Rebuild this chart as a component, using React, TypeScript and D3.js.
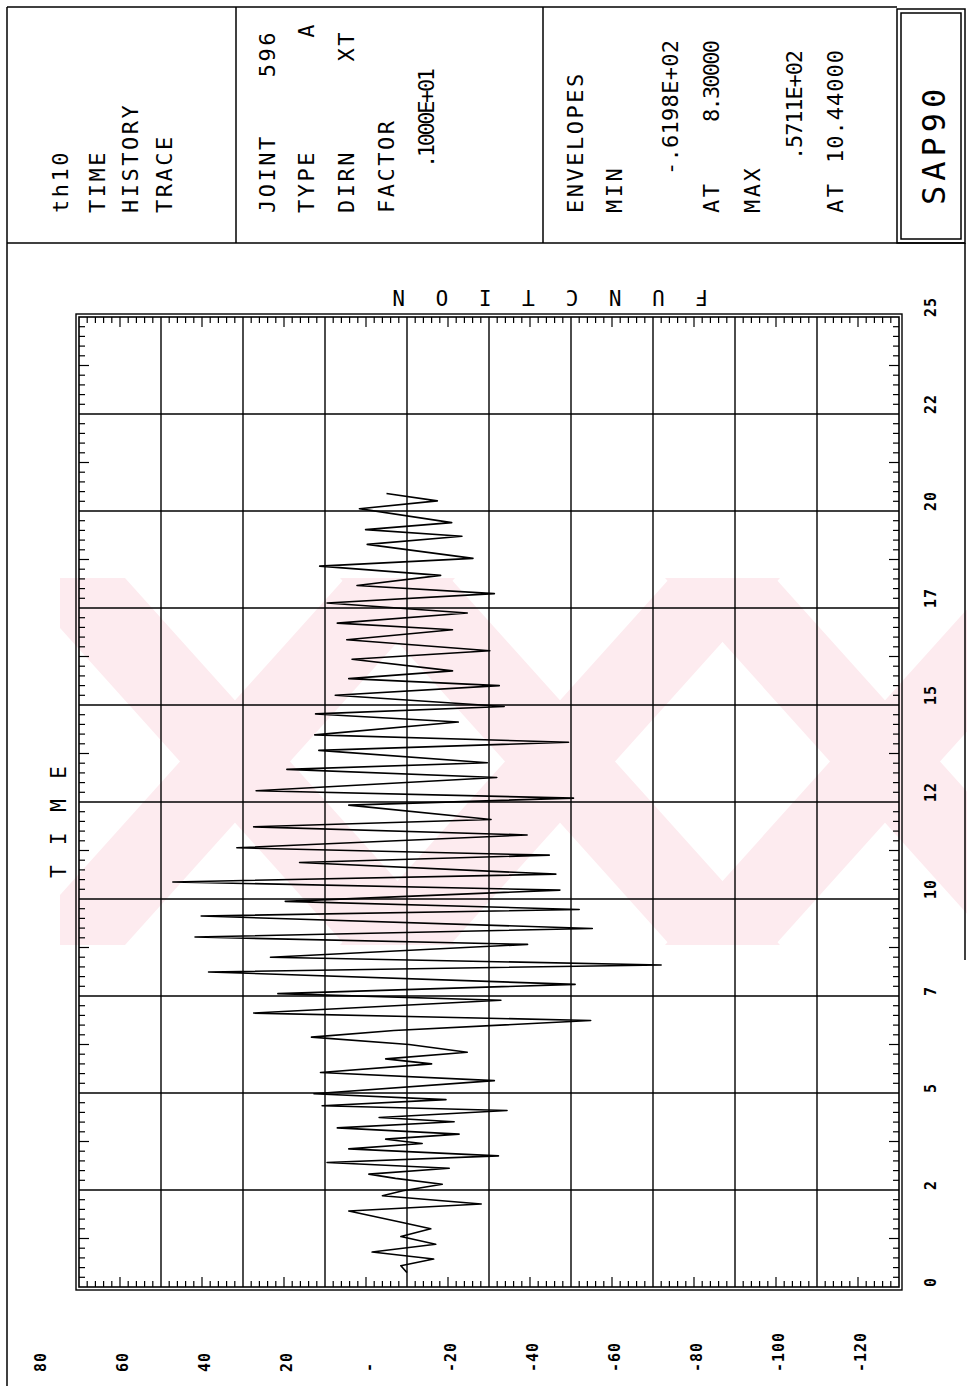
import React, { useEffect, useRef } from "react";
import * as d3 from "d3";

const W = 967;
const H = 1386;

// time history trace, turning points (time s / function value)
const traceTime = [
  0.37, 0.55, 0.72, 0.9, 1.1, 1.3, 1.5, 1.68, 1.96, 2.14,
  2.35, 2.48, 2.65, 2.8, 2.91, 3.06, 3.21, 3.38, 3.56, 3.7,
  3.81, 3.94, 4.1, 4.26, 4.37, 4.55, 4.67, 4.83, 4.98, 5.32,
  5.53, 5.75, 5.88, 6.05, 6.25, 6.44, 6.61, 6.87, 7.06, 7.39,
  7.56, 7.8, 8.12, 8.3, 8.5, 8.83, 9.02, 9.24, 9.56, 9.73,
  9.94, 10.23, 10.44, 10.64, 10.94, 11.13, 11.32, 11.65, 11.86, 12.05,
  12.42, 12.6, 12.79, 13.13, 13.34, 13.51, 13.83, 14.04, 14.23, 14.56,
  14.77, 14.96, 15.25, 15.5, 15.68, 15.88, 16.18, 16.4, 16.68, 16.94,
  17.11, 17.37, 17.63, 17.87, 18.08, 18.34, 18.58, 18.78, 19.14, 19.35,
  19.52, 19.7, 20.06, 20.26, 20.45,
];
const traceValue = [
  0, 1.5, -6.5, 8.5, -7, 1.5, -5.8, 2, 14.2, -18.1,
  6, 1, -8.6, 2.8, 9.3, -10.3, 19.5, -22.3, 14.2, -3.7,
  5.2, -12.7, 17, -11.5, 6.8, -24.4, 20.7, -9.5, 22.7, -21.3,
  21.1, -6, 5.2, -14.7, -0.5, 23.3, 3.2, -44.8, 37.4, -22.9,
  31.5, -41, 48.4, -61.98, 33.3, -29.4, 51.7, -45.2, 50.2, -42,
  29.7, -37.3, 57.11, -36.3, 26.2, -34.7, 41.5, -29.3, 37.4, -20.5,
  14.2, -40.6, 36.8, -21.9, 29.3, -19.6, 21.5, -39.4, 22.5, -12.5,
  22.3, -23.7, 17.5, -22.5, 14.2, -11.1, 13.4, -20.2, 14.7, -11.1,
  17, -14.7, 19.5, -21.3, 12.2, -8.2, 21.3, -16.1, 9.7, -13.4,
  10.1, -10.9, 11.6, -7.4, 5,
];

const timeGrid = [0, 2.5, 5, 7.5, 10, 12.5, 15, 17.5, 20, 22.5, 25];
const timeLabels = ["0", "2", "5", "7", "10", "12", "15", "17", "20", "22", "25"];
const valueGrid = [80, 60, 40, 20, 0, -20, -40, -60, -80, -100, -120];
const valueLabels = ["80", "60", "40", "20", "-", "-20", "-40", "-60", "-80", "-100", "-120"];

// header blocks
const titleLines = ["th10", "TIME", "HISTORY", "TRACE"];
const jointKeys = ["JOINT", "TYPE", "DIRN", "FACTOR"];
const jointValues = ["596", "A", "XT"];
const factorValue = ".1000E+01";
const envKeys = ["ENVELOPES", "MIN", "AT", "MAX", "AT"];
const envValues = ["-.6198E+02", "8.30000", ".5711E+02", "10.44000"];

const FONT = "'DejaVu Sans Mono', monospace";
const PINK = "#fdebef";

function App() {
  const ref = useRef<SVGSVGElement>(null);

  useEffect(() => {
    const svg = d3.select(ref.current);
    svg.selectAll("*").remove();

    svg.append("rect").attr("width", W).attr("height", H).attr("fill", "#fff");

    // faint pink watermark behind the plot (three big X strokes)
    svg.append("clipPath").attr("id", "wm")
      .append("rect").attr("x", 60).attr("y", 578).attr("width", W - 60).attr("height", 367);
    const wm = svg.append("g").attr("clip-path", "url(#wm)").attr("fill", PINK);
    [235, 560, 885].forEach((cx) => {
      const y0 = 578, y1 = 945, hw = 165, bw = 55;
      wm.append("polygon").attr("points",
        `${cx - hw - bw},${y0} ${cx - hw + bw},${y0} ${cx + hw + bw},${y1} ${cx + hw - bw},${y1}`);
      wm.append("polygon").attr("points",
        `${cx + hw - bw},${y0} ${cx + hw + bw},${y0} ${cx - hw + bw},${y1} ${cx - hw - bw},${y1}`);
    });

    // rotated text helper (reads bottom to top)
    const vtext = (str: string, cx: number, y: number, size: number, spacing: number, anchor = "start", len?: number, weight = "normal") => {
      const t = svg.append("text")
        .attr("transform", `translate(${cx + size * 0.36},${y}) rotate(-90)`)
        .attr("font-family", FONT)
        .attr("font-size", size)
        .attr("font-weight", weight)
        .attr("letter-spacing", spacing)
        .attr("text-anchor", anchor)
        .attr("fill", "#000")
        .text(str);
      if (len) t.attr("textLength", len).attr("lengthAdjust", "spacing");
      return t;
    };

    const line = (x1: number, y1: number, x2: number, y2: number, w = 1.5) =>
      svg.append("line").attr("x1", x1).attr("y1", y1).attr("x2", x2).attr("y2", y2)
        .attr("stroke", "#000").attr("stroke-width", w);

    // ---- header frame ----
    line(7, 7, 897, 7);
    line(7, 7, 7, H);
    line(7, 243, 965, 243);
    line(236, 7, 236, 243);
    line(543, 7, 543, 243);
    line(965, 243, 965, 960);
    svg.append("rect").attr("x", 897).attr("y", 9).attr("width", 68).attr("height", 234)
      .attr("fill", "none").attr("stroke", "#000").attr("stroke-width", 1.5);
    svg.append("rect").attr("x", 901).attr("y", 13).attr("width", 60).attr("height", 226)
      .attr("fill", "none").attr("stroke", "#000").attr("stroke-width", 1.5);

    // header text
    const titleX = [60, 97, 130, 164];
    titleLines.forEach((s, i) => vtext(s, titleX[i], 213, 22, 2.5));

    const jointX = [267, 306, 346, 386];
    jointKeys.forEach((s, i) => vtext(s, jointX[i], 213, 22, 2.5));
    vtext(jointValues[0], 267, 30, 22, 2.5, "end");
    vtext(jointValues[1], 306, 22, 22, 2.5, "end");
    vtext(jointValues[2], 346, 30, 22, 2.5, "end");
    vtext(factorValue, 426, 168, 22, 0, "start", 100);

    const envX = [575, 614, 711, 752, 835];
    envKeys.forEach((s, i) => vtext(s, envX[i], 213, 22, 2.5));
    vtext(envValues[0], 670, 175, 22, 0, "start", 135);
    vtext(envValues[1], 711, 122, 22, 0, "start", 82);
    vtext(envValues[2], 794, 160, 22, 0, "start", 110);
    vtext(envValues[3], 835, 163, 22, 0, "start", 113);

    vtext("SAP90", 933, 205, 32, 5);

    // ---- plot ----
    const x = d3.scaleLinear().domain([80, -120]).range([79, 899]);
    const y = d3.scaleLinear().domain([0, 25]).range([1287, 317]);

    const g = svg.append("g").attr("stroke", "#000").attr("fill", "none");

    // grid
    g.selectAll(".vg").data(valueGrid.slice(1, -1)).enter().append("line")
      .attr("x1", (d) => x(d)).attr("x2", (d) => x(d))
      .attr("y1", y(25)).attr("y2", y(0)).attr("stroke-width", 1.4);
    g.selectAll(".hg").data(timeGrid.slice(1, -1)).enter().append("line")
      .attr("x1", x(80)).attr("x2", x(-120))
      .attr("y1", (d) => y(d)).attr("y2", (d) => y(d)).attr("stroke-width", 1.4);

    // ticks on value edges (top/bottom)
    const vTicks = d3.range(1, 100).filter((k) => k % 10 !== 0);
    vTicks.forEach((k) => {
      const v = -120 + 2 * k;
      const len = k % 5 === 0 ? 10 : 6;
      line(x(v), y(0), x(v), y(0) - len, 1.2);
      line(x(v), y(25), x(v), y(25) + len, 1.2);
    });
    // ticks on time edges (left/right)
    const tTicks = d3.range(1, 100).filter((k) => k % 10 !== 0);
    tTicks.forEach((k) => {
      const t = k * 0.25;
      const len = k % 10 === 5 ? 10 : 6;
      line(x(80), y(t), x(80) + len, y(t), 1.2);
      line(x(-120), y(t), x(-120) - len, y(t), 1.2);
    });

    // double frame
    g.append("rect").attr("x", x(80)).attr("y", y(25))
      .attr("width", x(-120) - x(80)).attr("height", y(0) - y(25)).attr("stroke-width", 1.6);
    g.append("rect").attr("x", x(80) - 3).attr("y", y(25) - 3)
      .attr("width", x(-120) - x(80) + 6).attr("height", y(0) - y(25) + 6).attr("stroke-width", 1.4);

    // trace
    const path = d3.line<number>()
      .x((d) => x(d))
      .y((d, i) => y(traceTime[i]));
    g.append("path").attr("d", path(traceValue) || "")
      .attr("stroke-width", 1.6).attr("stroke-linejoin", "round");

    // tick labels
    valueGrid.forEach((v, i) => vtext(valueLabels[i], x(v) - 38, 1372, 15, 1, "start", undefined, "bold"));
    timeGrid.forEach((t, i) => vtext(timeLabels[i], 931, y(t), 15, 1, "start", undefined, "bold"));

    // axis titles
    vtext("T I M E", 58, 878, 21, 3.9);
    svg.append("text")
      .attr("transform", `translate(708,290) rotate(180)`)
      .attr("font-family", FONT)
      .attr("font-size", 21)
      .attr("letter-spacing", 9)
      .attr("fill", "#000")
      .text("F U N C T I O N");
  }, []);

  return (
    <svg
      ref={ref}
      width={W}
      height={H}
      style={{ position: "absolute", left: 0, top: 0 }}
    />
  );
}

export default App;
